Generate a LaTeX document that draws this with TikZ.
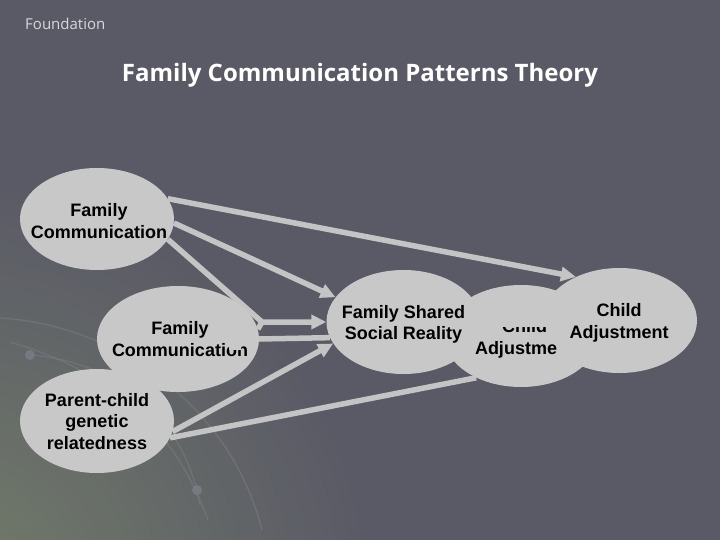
\documentclass[tikz,border=0pt]{standalone}
\usepackage{fontspec}
\setmainfont{Liberation Sans}
\newfontfamily\titlefont{Open Sans}
\usetikzlibrary{arrows.meta,shapes.geometric,backgrounds}
\definecolor{bgc}{HTML}{5A5A66}
\definecolor{ell}{HTML}{C8C8C8}
\definecolor{arr}{HTML}{C4C4C4}
\definecolor{glow}{HTML}{737D6A}
\definecolor{deco}{HTML}{7A7A84}
\definecolor{subt}{HTML}{D8D8D8}
\begin{document}
\begin{tikzpicture}[x=1pt,y=-1pt,
  bubble/.style 2 args={ellipse, fill=ell, draw=none, inner sep=0pt, minimum width=#1, minimum height=#2},
  lbl/.style={align=center, font=\bfseries\fontsize{18}{21.5}\selectfont, text=black, inner sep=0pt},
  conn/.style={draw=arr, line width=5.5pt},
  arrowed/.style={conn, -{Triangle[length=15pt,width=14pt]}},
  decoarc/.style={draw=deco, line width=1.3pt, opacity=0.6},
  decodot/.style={fill=deco, opacity=0.9}]
\begin{pgfonlayer}{background}
  \fill[bgc] (0,0) rectangle (720,540);
  \begin{scope}
    \clip (0,0) rectangle (720,540);
    \shade[inner color=glow, outer color=bgc] (-50,600) circle (420);
    \draw[decoarc] (0,318) .. controls (120,325) and (232,410) .. (262,530);
    \draw[decoarc] (30,355) .. controls (120,362) and (185,420) .. (200,505);
    \draw[decoarc] (10,342) .. controls (100,368) and (172,420) .. (208,520);
    \fill[decodot] (30,355) circle (5);
    \fill[decodot] (197,490) circle (5);
  \end{scope}
\end{pgfonlayer}
\useasboundingbox (0,0) rectangle (720,540);

\node[anchor=base west, inner sep=0pt, text=subt, font=\titlefont\fontsize{15}{17}\selectfont] (found) at (25,30) {Foundation};
\node[anchor=base, inner sep=0pt, text=white, font=\titlefont\bfseries\fontsize{24}{28}\selectfont] (title) at (360,82) {Family Communication Patterns Theory};

\node[bubble={154pt}{102pt}] (fc1) at (97,219) {};
\node[bubble={162pt}{106pt}] (fc2) at (178,339) {};
\node[bubble={154pt}{104pt}] (pc) at (97,421) {};
\node[bubble={154pt}{102pt}] (ca1) at (521,336) {};
\node[bubble={154pt}{104pt}] (fssr) at (403.5,322) {};
\node[bubble={155pt}{105pt}] (ca2) at (619.5,320.5) {};

\node[lbl] (fc1t) at (99,221) {Family\\Communication};
\node[lbl] (fc2t) at (180,339) {Family\\Communication};
\fill[ell] (229,340.5) rectangle (241,349.5);
\node[lbl] (pct) at (97,421.4) {Parent-child\\genetic\\relatedness};
\node[lbl] (fssrt) at (403.5,324.3) {Family Shared\\Social Reality};
\node[lbl] (ca2t) at (619,322.8) {Child\\Adjustment};
\begin{scope}
  \clip (455,327.5) rectangle (557,365);
  \node[lbl] (ca1t) at (524.5,338.8) {Child\\Adjustment};
\end{scope}

\coordinate (jn) at (262,322);
\begin{pgfonlayer}{background}
  \draw[arrowed] (fc1.16.5) -- (ca2.135);
  \draw[arrowed] (fc1.-3) -- (fssr.160);
  \draw[arrowed, line join=miter] (fc1.-16.5) -- (jn) -- (fssr.180);
  \draw[conn] (fc2.7) -- (jn);
  \draw[conn] (fc2.east) -- (fssr.192);
  \draw[arrowed] (pc.-8) -- (fssr.197);
  \draw[conn] (pc.-13) -- (ca1.223);
\end{pgfonlayer}
\end{tikzpicture}
\end{document}
